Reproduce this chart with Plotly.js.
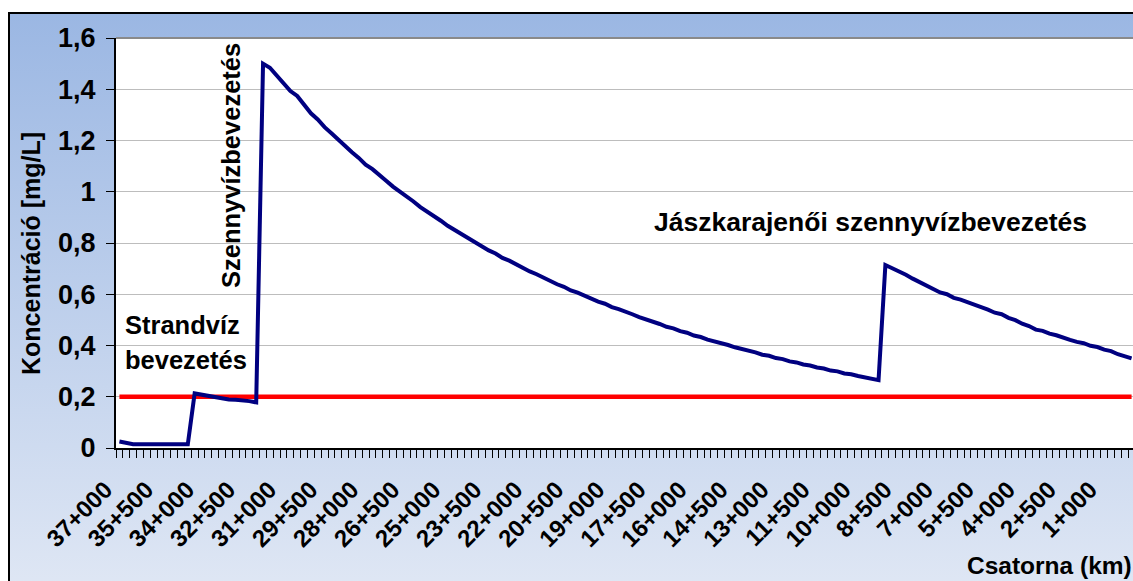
<!DOCTYPE html>
<html><head><meta charset="utf-8">
<script src="https://cdn.plot.ly/plotly-3.0.1.min.js"></script>
<style>
html,body{margin:0;padding:0;background:#fff;overflow:hidden;width:1133px;height:581px;}
#frame{position:absolute;left:8px;top:12px;width:1200px;height:600px;border-top:2px solid #000;border-left:2px solid #000;background:linear-gradient(to bottom,#9BB7E3 0%,#E2E9F5 100%);}
#chart{position:absolute;left:0;top:0;width:1141px;height:581px;}
</style></head><body>
<div id="frame"></div><div id="chart"></div>
<script>
// Chainage (km) of each category, from 37+000 down to 0+000
const km = [37,36.75,36.5,36.25,36,35.75,35.5,35.25,35,34.75,34.5,34.25,34,33.75,33.5,33.25,33,32.75,32.5,32.25,32,31.75,31.5,31.25,31,30.75,30.5,30.25,30,29.75,29.5,29.25,29,28.75,28.5,28.25,28,27.75,27.5,27.25,27,26.75,26.5,26.25,26,25.75,25.5,25.25,25,24.75,24.5,24.25,24,23.75,23.5,23.25,23,22.75,22.5,22.25,22,21.75,21.5,21.25,21,20.75,20.5,20.25,20,19.75,19.5,19.25,19,18.75,18.5,18.25,18,17.75,17.5,17.25,17,16.75,16.5,16.25,16,15.75,15.5,15.25,15,14.75,14.5,14.25,14,13.75,13.5,13.25,13,12.75,12.5,12.25,12,11.75,11.5,11.25,11,10.75,10.5,10.25,10,9.75,9.5,9.25,9,8.75,8.5,8.25,8,7.75,7.5,7.25,7,6.75,6.5,6.25,6,5.75,5.5,5.25,5,4.75,4.5,4.25,4,3.75,3.5,3.25,3,2.75,2.5,2.25,2,1.75,1.5,1.25,1,0.75,0.5,0.25,0];

// Concentration [mg/L]
const konc = [
0.025,0.018,0.015,0.015,0.015,0.015,0.015,0.015,0.015,0.015,0.015,
0.213,0.208,0.203,0.198,0.193,0.189,0.188,0.186,0.183,0.178,
1.500,1.484,1.452,1.422,1.393,1.374,1.338,1.306,1.282,1.252,
1.228,1.202,1.180,1.154,1.132,1.106,1.088,1.063,1.043,1.020,
1.002,0.980,0.962,0.940,0.923,0.903,0.887,0.867,0.851,0.832,
0.818,0.800,
0.787,0.771,0.759,0.742,0.731,0.716,0.704,0.689,0.678,0.664,
0.653,0.639,0.629,0.615,0.606,0.593,0.584,0.571,0.563,0.550,
0.542,0.530,0.522,0.511,0.503,0.492,0.484,0.473,0.467,0.456,
0.450,0.439,0.433,0.423,0.417,0.408,0.402,0.393,0.387,0.378,
0.373,0.364,0.360,0.351,0.347,0.338,0.334,0.326,0.322,0.314,
0.310,0.302,0.299,0.291,0.288,0.281,0.277,0.270,0.265,
0.714,0.702,0.686,0.676,0.661,0.648,0.633,0.622,0.607,0.600,
0.586,0.579,0.568,0.560,0.550,0.540,0.528,0.522,0.508,0.499,
0.485,0.476,0.462,0.457,0.446,0.440,0.429,0.422,0.414,0.409,
0.399,0.394,0.384,0.378,0.366,0.360,0.350];

// Limit value
const limit = 0.2;

// Tick labels
const xTickVals = [37,35.5,34,32.5,31,29.5,28,26.5,25,23.5,22,20.5,19,17.5,16,14.5,13,11.5,10,8.5,7,5.5,4,2.5,1];
const xTickText = ["37+000","35+500","34+000","32+500","31+000","29+500","28+000","26+500","25+000","23+500","22+000","20+500","19+000","17+500","16+000","14+500","13+000","11+500","10+000","8+500","7+000","5+500","4+000","2+500","1+000"];
const yTickVals = [0,0.2,0.4,0.6,0.8,1,1.2,1.4,1.6];
const yTickText = ["0","0,2","0,4","0,6","0,8","1","1,2","1,4","1,6"];

const FONT = "Arial, 'Liberation Sans', sans-serif";

const traces = [
  {x:[km[0], km[km.length-1]], y:[limit, limit], type:'scatter', mode:'lines',
   line:{color:'#FF0000', width:4.5}, hoverinfo:'skip'},
  {x:km, y:konc, type:'scatter', mode:'lines',
   line:{color:'#000080', width:4}}
];

function ann(text, x, y, size, opts){
  return Object.assign({text:text, xref:'paper', yref:'paper', x:x, y:y, showarrow:false,
    font:{family:FONT, size:size, color:'#000', weight:'bold'}}, opts||{});
}
// pixel -> paper helpers for this layout (plot area 116..1135 x 38..448)
const PX = p => (p-116)/1019, PY = p => (448-p)/410;

const layout = {
  width:1141, height:581,
  margin:{l:116, r:6, t:38, b:133},
  paper_bgcolor:'rgba(0,0,0,0)', plot_bgcolor:'#FFFFFF',
  showlegend:false,
  xaxis:{type:'linear', range:[37.125,-0.125], tickmode:'array', tickvals:xTickVals, ticktext:xTickText,
    tickangle:-45, ticks:'', ticklabelstandoff:16, ticklabelshift:14,
    tickfont:{family:FONT, size:24, color:'#000', weight:'bold'},
    showline:true, linecolor:'#000', linewidth:2, showgrid:false, zeroline:false,
    minor:{tickmode:'linear', tick0:0.125, dtick:0.25, ticks:'outside', ticklen:8, tickcolor:'#000', tickwidth:1, showgrid:false}},
  yaxis:{range:[0,1.6], tickmode:'array', tickvals:yTickVals, ticktext:yTickText,
    ticks:'outside', ticklen:8, tickcolor:'#000', tickwidth:1, ticklabelstandoff:5,
    tickfont:{family:FONT, size:27, color:'#000', weight:'bold'},
    showline:true, linecolor:'#000', linewidth:2, showgrid:true, gridcolor:'#BDBDBD', gridwidth:1, zeroline:false},
  shapes:[{type:'line', xref:'paper', yref:'paper', x0:0, x1:1, y0:1, y1:1, line:{color:'#8A8A8A', width:2}}],
  annotations:[
    ann('Koncentráció [mg/L]', PX(31), PY(254), 25, {textangle:-90, xanchor:'center', yanchor:'middle'}),
    ann('Csatorna (km)', PX(965), PY(565), 24.5, {xanchor:'left', yanchor:'middle'}),
    ann('Szennyvízbevezetés', PX(231), PY(166), 25.5, {textangle:-90, xanchor:'center', yanchor:'middle'}),
    ann('Strandvíz', PX(123), PY(325), 25.5, {xanchor:'left', yanchor:'middle'}),
    ann('bevezetés', PX(123), PY(360), 25.5, {xanchor:'left', yanchor:'middle'}),
    ann('Jászkarajenői szennyvízbevezetés', PX(652), PY(222), 26.5, {xanchor:'left', yanchor:'middle'})
  ]
};

Plotly.newPlot('chart', traces, layout, {displayModeBar:false, staticPlot:true});
</script></body></html>
